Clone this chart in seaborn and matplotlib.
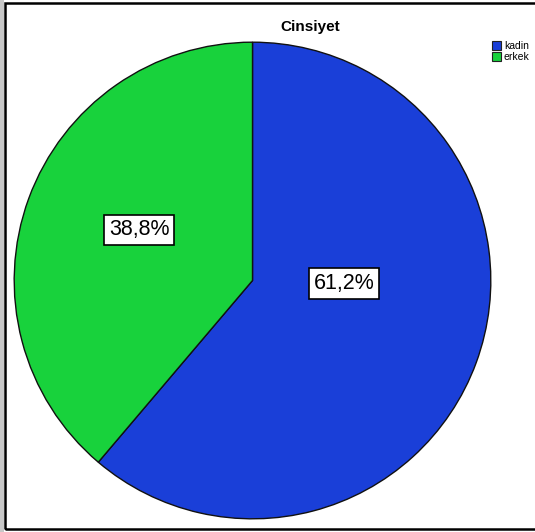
import matplotlib
matplotlib.use("Agg")
import matplotlib.pyplot as plt
import seaborn as sns
from matplotlib.patches import Patch, Rectangle

sns.set_theme(style="white")
plt.rcParams['font.family'] = ['Liberation Sans', 'DejaVu Sans']
plt.rcParams['text.color'] = 'black'

title = "Cinsiyet"
categories = ["kadin", "erkek"]
values = [61.2, 38.8]
labels = ["61,2%", "38,8%"]
colors = ["#1a3fd8", "#18d23c"]

W, H = 535, 532
fig = plt.figure(figsize=(W / 100, H / 100), dpi=100)
fig.patch.set_facecolor("white")

# outer frame (right side runs off the image)
fig.add_artist(Rectangle((0, 0), 4 / W, 1, transform=fig.transFigure,
                         facecolor="#c8c8c8", edgecolor="none", zorder=0))
fig.add_artist(Rectangle((5 / W, (H - 529) / H), 540 / W, 526.5 / H,
                         transform=fig.transFigure, facecolor="none",
                         edgecolor="black", linewidth=1.8, zorder=5))

ax = fig.add_axes([13 / W, (H - 520) / H, 479 / W, 479 / H])
wedges, texts = ax.pie(values, colors=colors, startangle=90, counterclock=False,
                       wedgeprops=dict(edgecolor="#111111", linewidth=1.0))
ax.set_aspect("equal")
ax.set_xlim(-1.005, 1.005)
ax.set_ylim(-1.005, 1.005)

label_pos = [(0.383, -0.013), (-0.475, 0.212)]
for (x, y), lab in zip(label_pos, labels):
    ax.text(x, y, lab, ha="center", va="center", fontsize=15.5, color="black",
            bbox=dict(boxstyle="square,pad=0.22", facecolor="white", edgecolor="black", linewidth=1.2))

fig.text(310 / W, 1 - 27 / H, title, ha="center", va="center", fontsize=11,
         fontweight="bold", color="black")

handles = [Patch(facecolor=c, edgecolor="#222222", linewidth=0.8) for c in colors]
leg = fig.legend(handles, categories, loc="upper left", bbox_to_anchor=(492 / W, 1 - 41 / H),
                 frameon=False, fontsize=7.5, handlelength=0.9, handleheight=0.9,
                 handletextpad=0.25, labelspacing=0.1, borderaxespad=0, borderpad=0)
for t in leg.get_texts():
    t.set_color("black")

fig.savefig("out.png", dpi=100, facecolor="white")
